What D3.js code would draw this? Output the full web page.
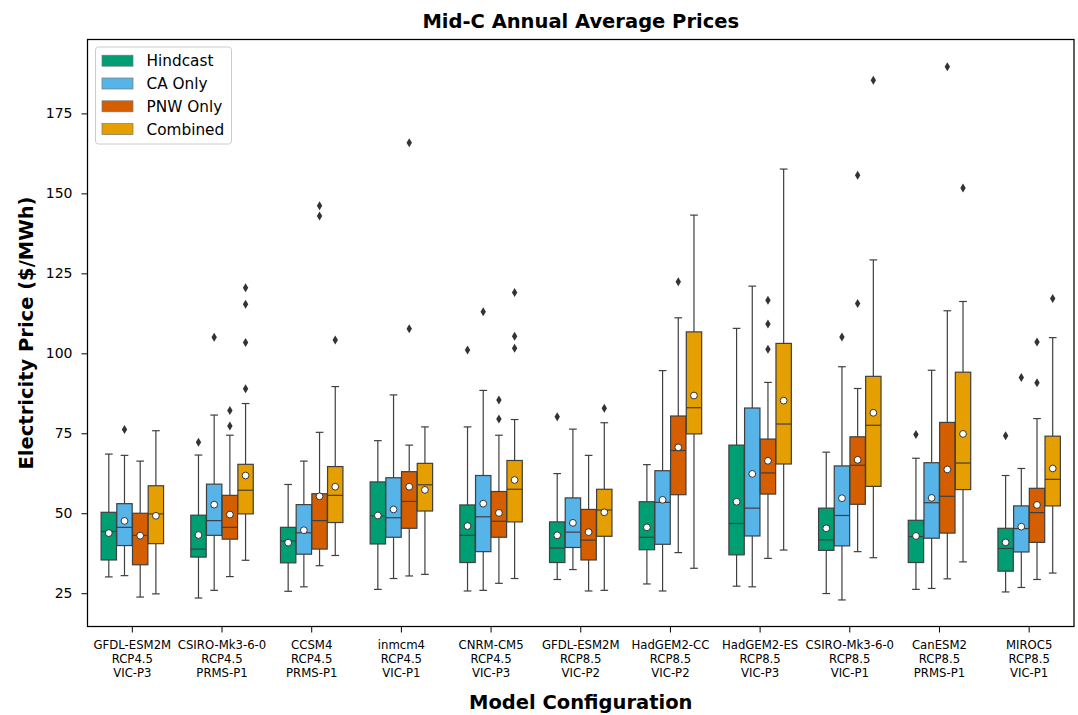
<!DOCTYPE html>
<html>
<head>
<meta charset="utf-8">
<script src="https://cdn.jsdelivr.net/npm/d3@7"></script>
<style>
  body { margin: 0; background: #fff; }
  svg text { font-family: "DejaVu Sans", sans-serif; fill: #000; }
</style>
</head>
<body>
<div class="bg"></div>
<script>
// categories, each label has 3 lines (model / scenario / hydrology)
const models = ["GFDL-ESM2M", "CSIRO-Mk3-6-0", "CCSM4", "inmcm4", "CNRM-CM5", "GFDL-ESM2M",
  "HadGEM2-CC", "HadGEM2-ES", "CSIRO-Mk3-6-0", "CanESM2", "MIROC5"];
const scenarios = ["RCP4.5", "RCP4.5", "RCP4.5", "RCP4.5", "RCP4.5", "RCP8.5",
  "RCP8.5", "RCP8.5", "RCP8.5", "RCP8.5", "RCP8.5"];
const hydro = ["VIC-P3", "PRMS-P1", "PRMS-P1", "VIC-P1", "VIC-P3", "VIC-P2",
  "VIC-P2", "VIC-P3", "VIC-P1", "PRMS-P1", "VIC-P1"];

const seriesNames = ["Hindcast", "CA Only", "PNW Only", "Combined"];
const seriesColors = ["#009e73", "#56b4e9", "#d55e00", "#e69f00"];

const yTicks = [25, 50, 75, 100, 125, 150, 175];

// box stats per category: [whisker low, q1, median, q3, whisker high, mean]
const hindcast = [
  [30.1, 35.4, 44.3, 50.3, 68.5, 43.8],
  [23.5, 36.3, 38.8, 49.4, 68.2, 43.2],
  [25.6, 34.5, 41.3, 45.6, 59.0, 40.8],
  [26.2, 40.4, 49.2, 59.8, 72.7, 49.3],
  [25.7, 34.6, 43.1, 52.6, 77.0, 46.0],
  [29.3, 34.6, 39.1, 47.3, 62.4, 43.1],
  [27.9, 38.6, 42.5, 53.6, 65.2, 45.6],
  [27.2, 37.0, 46.8, 71.3, 107.8, 53.6],
  [24.9, 38.4, 41.7, 51.6, 69.1, 45.3],
  [26.2, 34.6, 42.7, 47.8, 67.2, 42.9],
  [25.4, 31.9, 39.0, 45.3, 61.8, 40.9]
];
const caOnly = [
  [30.5, 39.9, 45.6, 53.0, 68.1, 47.6],
  [25.9, 43.1, 47.7, 59.1, 80.7, 52.7],
  [27.0, 37.2, 43.9, 52.7, 66.3, 44.7],
  [29.6, 42.5, 48.6, 61.1, 87.0, 51.2],
  [25.9, 38.0, 48.9, 61.8, 88.4, 53.0],
  [32.4, 39.3, 44.1, 54.8, 76.3, 47.0],
  [25.7, 40.3, 53.4, 63.3, 94.6, 54.2],
  [27.0, 42.9, 51.6, 82.9, 121.0, 62.3],
  [22.9, 39.8, 49.3, 64.8, 95.8, 54.7],
  [26.5, 42.2, 53.3, 65.8, 94.7, 54.8],
  [26.8, 37.9, 45.2, 52.3, 64.0, 45.8]
];
const pnwOnly = [
  [23.8, 33.9, 43.1, 50.0, 66.3, 43.0],
  [30.2, 41.9, 45.6, 55.6, 74.4, 49.6],
  [33.6, 38.8, 47.7, 56.1, 75.3, 55.3],
  [30.4, 45.3, 53.7, 63.0, 71.3, 58.3],
  [28.1, 42.5, 47.5, 56.8, 74.4, 50.1],
  [25.7, 35.4, 41.6, 51.2, 68.1, 44.1],
  [37.7, 55.8, 69.6, 80.4, 111.1, 70.6],
  [35.9, 56.0, 62.6, 73.2, 90.9, 66.4],
  [38.0, 52.8, 65.0, 73.9, 89.0, 66.7],
  [29.5, 43.8, 55.3, 78.4, 113.3, 63.7],
  [29.3, 40.9, 50.2, 57.8, 79.6, 52.6]
];
const combined = [
  [24.8, 40.5, 49.8, 58.6, 75.8, 49.2],
  [35.3, 49.8, 57.2, 65.3, 84.3, 61.8],
  [36.8, 47.1, 55.6, 64.6, 89.6, 58.3],
  [30.9, 50.7, 58.9, 65.6, 77.0, 57.3],
  [29.6, 47.3, 57.5, 66.5, 79.3, 60.4],
  [25.9, 42.8, 51.0, 57.5, 78.3, 50.3],
  [32.8, 74.8, 83.0, 106.7, 143.2, 86.8],
  [38.5, 65.4, 77.9, 103.1, 157.6, 85.2],
  [36.1, 58.4, 77.5, 92.8, 129.2, 81.4],
  [34.8, 57.4, 65.7, 94.1, 116.2, 74.8],
  [31.3, 52.3, 60.6, 74.1, 104.9, 64.0]
];

// outliers per category
const hindcastOut = [[], [72.2], [], [], [101.0], [80.2], [], [], [], [74.6], [74.2]];
const caOnlyOut = [[76.2], [105.0], [], [], [113.0], [], [], [], [105.1], [], [92.4]];
const pnwOnlyOut = [[], [82.1, 77.3], [146.1, 142.9], [165.8, 107.7], [85.4, 79.5], [],
  [122.4], [116.6, 109.2, 101.3], [155.7, 115.6], [189.6], [103.5, 90.8]];
const combinedOut = [[], [120.5, 115.3, 103.4, 88.9], [104.2], [], [119.0, 105.3, 101.6], [82.8],
  [], [], [185.4], [151.7], [117.1]];

const stats = [hindcast, caOnly, pnwOnly, combined];
const outliers = [hindcastOut, caOnlyOut, pnwOnlyOut, combinedOut];

const W = 1078, H = 715;
const margin = { top: 39.5, right: 4, bottom: 88.5, left: 87.5 };
const width = W - margin.left - margin.right;
const height = H - margin.top - margin.bottom;
const lineCol = "#3f3f3f";

const svg = d3.select(".bg").append("svg")
  .attr("width", W)
  .attr("height", H);

const g = svg.append("g")
  .attr("transform", "translate(" + margin.left + "," + margin.top + ")");

const x = d3.scaleBand().domain(d3.range(models.length)).range([0, width]).padding(0);
const hue = d3.scaleBand().domain(d3.range(seriesNames.length))
  .range([-0.35 * x.bandwidth(), 0.35 * x.bandwidth()]);
const y = d3.scaleLinear().domain([14.6, 198.1]).range([height, 0]);

const boxW = hue.bandwidth() * 0.98;

// boxes
seriesNames.forEach((name, s) => {
  const sg = g.append("g").attr("class", "series-" + s);
  stats[s].forEach((d, i) => {
    const cx = x(i) + x.bandwidth() / 2 + hue(s) + hue.bandwidth() / 2;
    const b = sg.append("g");
    // whiskers
    b.append("line").attr("x1", cx).attr("x2", cx).attr("y1", y(d[0])).attr("y2", y(d[1]))
      .attr("stroke", lineCol).attr("stroke-width", 1.2);
    b.append("line").attr("x1", cx).attr("x2", cx).attr("y1", y(d[3])).attr("y2", y(d[4]))
      .attr("stroke", lineCol).attr("stroke-width", 1.2);
    // caps
    [d[0], d[4]].forEach(v => {
      b.append("line").attr("x1", cx - boxW / 4).attr("x2", cx + boxW / 4)
        .attr("y1", y(v)).attr("y2", y(v))
        .attr("stroke", lineCol).attr("stroke-width", 1.2);
    });
    b.append("rect")
      .attr("x", cx - boxW / 2).attr("width", boxW)
      .attr("y", y(d[3])).attr("height", y(d[1]) - y(d[3]))
      .attr("fill", seriesColors[s])
      .attr("stroke", lineCol).attr("stroke-width", 1.2);
    b.append("line").attr("x1", cx - boxW / 2).attr("x2", cx + boxW / 2)
      .attr("y1", y(d[2])).attr("y2", y(d[2]))
      .attr("stroke", lineCol).attr("stroke-width", 1.2);
    // outliers as diamonds
    b.selectAll("path.out").data(outliers[s][i]).enter().append("path")
      .attr("class", "out")
      .attr("d", v => "M" + cx + "," + (y(v) - 4.5) + "L" + (cx + 2.7) + "," + y(v) +
        "L" + cx + "," + (y(v) + 4.5) + "L" + (cx - 2.7) + "," + y(v) + "Z")
      .attr("fill", "#333");
    // mean marker
    b.append("circle").attr("cx", cx).attr("cy", y(d[5])).attr("r", 3.4)
      .attr("fill", "#fff").attr("stroke", "#222").attr("stroke-width", 0.9);
  });
});

// axes
const yAxis = d3.axisLeft(y).tickValues(yTicks).tickSize(6).tickPadding(9);
g.append("g").attr("class", "y-axis").call(yAxis)
  .call(a => a.select(".domain").remove())
  .call(a => a.selectAll("text").style("font-size", "14px"))
  .call(a => a.selectAll("line").attr("stroke", "#000").attr("stroke-width", 1));

const xAxis = d3.axisBottom(x).tickSize(6).tickFormat("");
const xg = g.append("g").attr("class", "x-axis")
  .attr("transform", "translate(0," + height + ")")
  .call(xAxis)
  .call(a => a.select(".domain").remove())
  .call(a => a.selectAll("line").attr("stroke", "#000").attr("stroke-width", 1));

xg.selectAll(".tick").append("text")
  .attr("text-anchor", "middle")
  .style("font-size", "11.7px")
  .selectAll("tspan")
  .data(i => [models[i], scenarios[i], hydro[i]])
  .enter().append("tspan")
  .attr("x", 0)
  .attr("y", (d, k) => 22.6 + k * 13.7)
  .text(d => d);

// frame
g.append("rect").attr("width", width).attr("height", height)
  .attr("fill", "none").attr("stroke", "#000").attr("stroke-width", 1.25);

// titles
svg.append("text")
  .attr("x", margin.left + width / 2).attr("y", 28)
  .attr("text-anchor", "middle")
  .style("font-size", "19.5px").style("font-weight", "bold")
  .text("Mid-C Annual Average Prices");

svg.append("text")
  .attr("x", margin.left + width / 2).attr("y", 709)
  .attr("text-anchor", "middle")
  .style("font-size", "19.5px").style("font-weight", "bold")
  .text("Model Configuration");

svg.append("text")
  .attr("transform", "translate(32.5," + (margin.top + height / 2) + ") rotate(-90)")
  .attr("text-anchor", "middle")
  .style("font-size", "19.5px").style("font-weight", "bold")
  .text("Electricity Price ($/MWh)");

// legend
const lg = svg.append("g").attr("transform", "translate(95.5,47)");
lg.append("rect").attr("width", 136).attr("height", 97).attr("rx", 3)
  .attr("fill", "#fff").attr("fill-opacity", 0.8)
  .attr("stroke", "#ccc").attr("stroke-width", 1);
seriesNames.forEach((name, s) => {
  const row = lg.append("g").attr("transform", "translate(0," + (13.7 + s * 22.8) + ")");
  row.append("rect").attr("x", 6.5).attr("y", -5.5).attr("width", 31).attr("height", 11)
    .attr("fill", seriesColors[s]).attr("stroke", "#777").attr("stroke-width", 0.7);
  row.append("text").attr("x", 51).attr("y", 5.5).style("font-size", "15.3px").text(name);
});
</script>
</body>
</html>
